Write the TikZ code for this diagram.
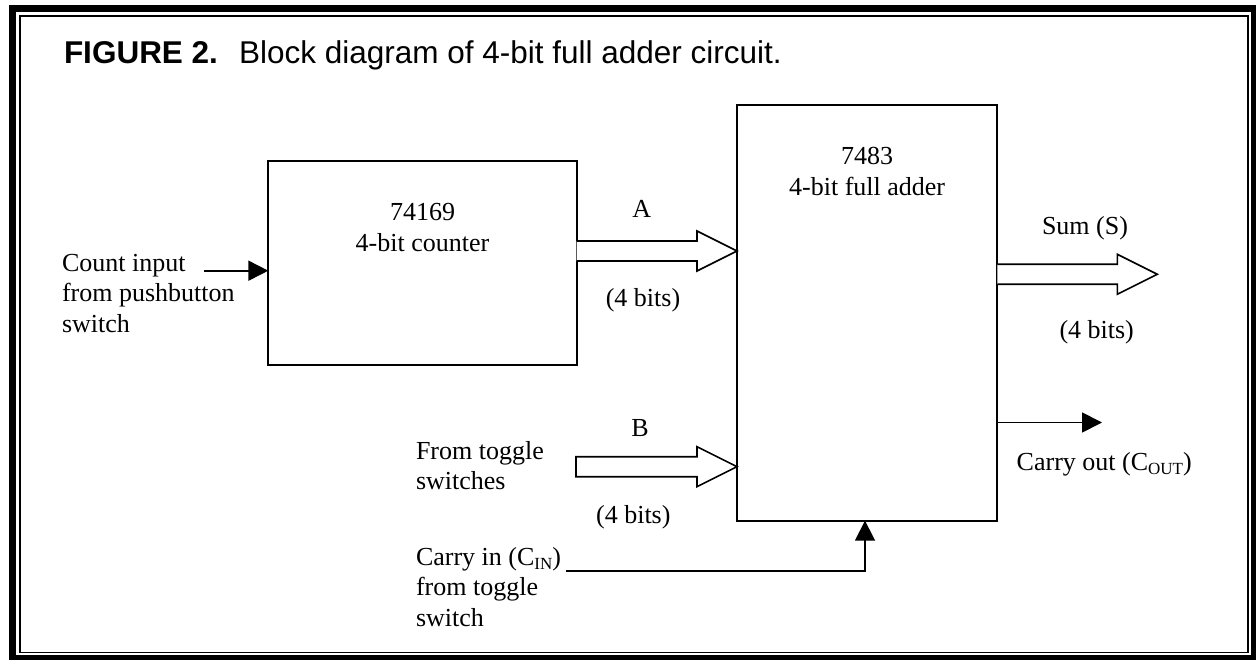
\documentclass[tikz,border=0pt]{standalone}
\usepackage{fontspec}
\setmainfont{Liberation Serif}
\newfontfamily\titlefont{Liberation Sans}
\usetikzlibrary{arrows.meta,calc}
\newcommand\mysub[1]{\raisebox{-4pt}{\fontsize{17}{17}\selectfont #1}}
\newcommand\busarrow[3]{%
  \draw[bus] ($(#1)+(0,-10)$) -- ($(#2)+(-40,-10)$) -- ($(#2)+(-40,-20)$) -- (#2)
    -- ($(#2)+(-40,20)$) -- ($(#2)+(-40,10)$) -- ($(#1)+(0,10)$) #3;}
\begin{document}
\begin{tikzpicture}[x=1pt,y=-1pt,
  every node/.style={inner sep=0pt,outer sep=0pt},
  txt/.style={font=\fontsize{26}{30.5}\selectfont},
  blk/.style={draw,line width=1.8pt},
  bus/.style={draw,line width=1.6pt,line join=miter,fill=white},
  sig/.style={draw,line width=1.8pt,-{Triangle[length=20pt,width=20pt]}},
  frameout/.style={draw,line width=7pt},
  framein/.style={draw,line width=1.5pt}]
\useasboundingbox (0,0) rectangle (1256,660);
\begin{scope}
\clip (0,0) rectangle (1256,660);
\draw[frameout] (12,8.5) rectangle (1254.5,658.5);
\draw[framein] (20,16) rectangle (1248,652.5);
\end{scope}
% title
\node[anchor=base west,font=\titlefont\fontsize{31.5}{36}\selectfont] (title) at (64,63.3)
  {\textbf{FIGURE 2.}\hspace{21pt}Block diagram of 4-bit full adder circuit.};
% blocks
\node[blk,minimum width=308.4pt,minimum height=204.3pt] (cnt) at (422.5,262.85) {};
\node[blk,minimum width=260.3pt,minimum height=415.7pt] (add) at (867.15,312.85) {};
\node[txt,anchor=base] (cntlbl) at (422.5,221)
  {\begin{tabular}[t]{@{}c@{}}74169\\4-bit counter\end{tabular}};
\node[txt,anchor=base] (addlbl) at (867.15,165)
  {\begin{tabular}[t]{@{}c@{}}7483\\4-bit full adder\end{tabular}};
% count input
\node[txt,anchor=base west] (cntin) at (62,271.5)
  {\begin{tabular}[t]{@{}l@{}}Count input\\from pushbutton\\switch\end{tabular}};
\coordinate (cntsrc) at (204,270.7);
\draw[sig] (cntsrc) -- (cnt.west |- cntsrc);
% A bus
\coordinate (ay) at (0,251);
\coordinate (as) at (cnt.east |- ay);
\coordinate (at) at (add.west |- ay);
\busarrow{as}{at}{}
\node[txt,anchor=base] (alab) at (641.7,217.7) {A};
\node[txt,anchor=base] (abits) at (643,306.7) {(4 bits)};
% B bus
\node[txt,anchor=base west] (bin) at (416,459.3)
  {\begin{tabular}[t]{@{}l@{}}From toggle\\switches\end{tabular}};
\coordinate (bs) at (576,466.7);
\coordinate (bt) at (add.west |- bs);
\busarrow{bs}{bt}{-- cycle}
\node[txt,anchor=base] (blab) at (640,436.7) {B};
\node[txt,anchor=base] (bbits) at (633.3,523.3) {(4 bits)};
% Sum bus
\coordinate (sy) at (0,274.3);
\coordinate (ss) at (add.east |- sy);
\coordinate (st) at (1157.3,274.3);
\busarrow{ss}{st}{}
\node[txt,anchor=base] (slab) at (1085,235) {Sum (S)};
\node[txt,anchor=base] (sbits) at (1096.7,338.3) {(4 bits)};
% carry out
\coordinate (cotip) at (1102,422.5);
\draw[sig] (add.east |- cotip) -- (cotip);
\node[txt,anchor=base west] (colab) at (1016.7,470) {Carry out (C\mysub{OUT})};
% carry in
\node[txt,anchor=base west] (cin) at (416,565)
  {\begin{tabular}[t]{@{}l@{}}Carry in (C\mysub{IN})\\from toggle\\switch\end{tabular}};
\coordinate (cinsrc) at (565.7,570.7);
\coordinate (cinx) at (865,0);
\draw[sig] (cinsrc) -| (add.south -| cinx);
\end{tikzpicture}
\end{document}
